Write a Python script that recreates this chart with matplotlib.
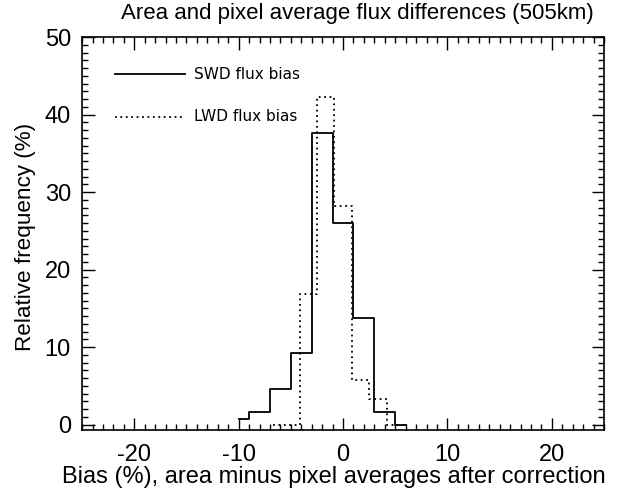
import matplotlib
matplotlib.use("Agg")
import matplotlib.pyplot as plt
from matplotlib.ticker import MultipleLocator

# histogram bin centres and relative frequencies (%)
swd_bins = [-10, -8, -6, -4, -2, 0, 2, 4, 6]
swd_freq = [0.75, 1.6, 4.6, 9.2, 37.6, 26.0, 13.7, 1.6, 0.0]

lwd_bins = [-6.67, -5, -3.33, -1.67, 0, 1.67, 3.33, 5, 6]
lwd_freq = [0.0, 0.0, 16.8, 42.3, 28.2, 5.8, 3.25, 0.0, 0.0]

title = "Area and pixel average flux differences (505km)"
xlabel = "Bias (%), area minus pixel averages after correction"
ylabel = "Relative frequency (%)"
legend_labels = ["SWD flux bias", "LWD flux bias"]

plt.rcParams['font.family'] = ['Liberation Sans', 'DejaVu Sans']
plt.rcParams['axes.unicode_minus'] = False

fig = plt.figure(figsize=(6.17, 4.88), dpi=100)
ax = fig.add_axes([0.133, 0.119, 0.846, 0.805])

ax.plot(swd_bins, swd_freq, drawstyle='steps-mid', color='black', lw=1.3)
ax.plot(lwd_bins, lwd_freq, drawstyle='steps-mid', color='black', lw=1.3,
        linestyle=(0, (1, 2)))

ax.set_xlim(-25, 25)
ax.set_ylim(-0.7, 50)
ax.xaxis.set_major_locator(MultipleLocator(10))
ax.xaxis.set_minor_locator(MultipleLocator(1))
ax.yaxis.set_major_locator(MultipleLocator(10))
ax.yaxis.set_minor_locator(MultipleLocator(1))
ax.tick_params(which='both', direction='in', top=True, right=True,
               labelsize=17, width=1.0, colors='black')
ax.tick_params(which='major', length=9, pad=8)
ax.tick_params(which='minor', length=4)
ax.tick_params(axis='x', which='major', pad=10)
for s in ax.spines.values():
    s.set_linewidth(1.2)

ax.set_title(title, fontsize=16, pad=13, x=0.527)
ax.set_xlabel(xlabel, fontsize=17, labelpad=0, x=0.482)
ax.set_ylabel(ylabel, fontsize=16.2, labelpad=6, y=0.49)

# IDL-style legend drawn in axes coordinates
ax.plot([0.063, 0.197], [0.905, 0.905], transform=ax.transAxes,
        color='black', lw=1.3)
ax.plot([0.063, 0.197], [0.797, 0.797], transform=ax.transAxes,
        color='black', lw=1.3, linestyle=(0, (1, 2)))
ax.text(0.215, 0.905, legend_labels[0], transform=ax.transAxes,
        fontsize=11, family='DejaVu Sans', va='center')
ax.text(0.215, 0.797, legend_labels[1], transform=ax.transAxes,
        fontsize=11, family='DejaVu Sans', va='center')

fig.savefig("out.png", dpi=100)
